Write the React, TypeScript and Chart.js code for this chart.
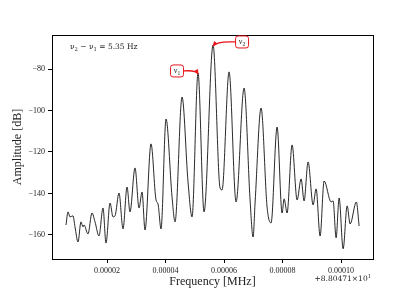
import React, { useEffect, useRef } from "react";
import { Chart, registerables } from "chart.js";

Chart.register(...registerables);

// Frequency offset in Hz (1e-6 MHz) relative to 8.80471e1 MHz
const freqHz = [
  5.98, 6.67, 7.35, 8.38, 9.06, 10.08, 11.11, 11.79, 12.14, 13.5, 14.87, 15.9, 17.26, 18.63, 19.66,
  21.03, 22.05, 22.74, 24.1, 25.47, 26.84, 27.86, 29.57, 30.94, 31.97, 32.99, 35.04, 36.75, 37.44,
  38.46, 40.17, 42.22, 43.25, 45.64, 47.69, 49.06, 51.11, 53.16, 56.24, 58.63, 59.32, 61.71, 64.11,
  66.84, 68.89, 69.92, 70.6, 72.65, 74.7, 76.07, 78.12, 79.83, 80.52, 81.54, 83.25, 84.96, 86.33,
  87.35, 88.72, 90.43, 91.46, 92.82, 94.19, 96.59, 97.27, 98.29, 99.32, 100.69, 102.06, 103.08,
  105.21, 106.16,
];
const ampDb = [
  -155.2, -148.9, -151.3, -150.8, -156.1, -163.4, -153.7, -156.1, -155.2, -159.5, -149.4, -153.7,
  -160.5, -147.0, -163.9, -144.6, -151.3, -150.8, -139.8, -157.1, -136.9, -148.9, -127.7, -147.0,
  -139.3, -157.6, -116.1, -143.1, -145.1, -157.1, -104.1, -141.7, -153.7, -93.5, -134.5, -151.3,
  -81.9, -148.9, -68.4, -137.3, -138.3, -81.4, -144.1, -89.2, -143.1, -161.0, -144.6, -98.8, -146.5,
  -154.2, -108.0, -149.4, -142.6, -149.4, -116.6, -143.1, -133.0, -143.6, -124.8, -145.5, -137.8,
  -160.5, -134.0, -144.1, -143.6, -161.4, -142.2, -166.7, -146.0, -154.7, -144.1, -155.7,
];
const xTicks = [20, 40, 60, 80, 100];
const yTicks = [-160, -140, -120, -100, -80];
const xRange = [1.2, 110.9];
const yRange = [-171.6, -63.6];
const peakNu1Hz = 51.11;
const peakNu2Hz = 56.24;
const deltaLabel = "5.35 Hz";
const offsetLabel = "+8.80471×10";

const SERIF = '"Liberation Serif", "DejaVu Serif", serif';
const WSERIF = '"DejaVu Serif", serif';

type Seg = { t: string; s: number };

function drawSegs(ctx: CanvasRenderingContext2D, segs: Seg[], x: number, y: number, size: number, align: "left" | "right" | "center", fam = SERIF) {
  const widths = segs.map((sg) => {
    ctx.font = `${sg.s === 0 ? size : size * 0.7}px ${fam}`;
    return ctx.measureText(sg.t).width;
  });
  const total = widths.reduce((a, b) => a + b, 0);
  let cx = align === "left" ? x : align === "right" ? x - total : x - total / 2;
  ctx.textAlign = "left";
  ctx.textBaseline = "alphabetic";
  segs.forEach((sg, i) => {
    ctx.font = `${sg.s === 0 ? size : size * 0.7}px ${fam}`;
    const dy = sg.s < 0 ? size * 0.2 : sg.s > 0 ? -size * 0.4 : 0;
    ctx.fillText(sg.t, cx, y + dy);
    cx += widths[i];
  });
}

const decorPlugin = {
  id: "decor",
  afterDraw(chart: any) {
    const { ctx, chartArea: ca, scales } = chart;
    const xs = scales.x;
    const ys = scales.y;
    ctx.save();
    // frame
    ctx.strokeStyle = "#000";
    ctx.lineWidth = 1;
    ctx.strokeRect(Math.round(ca.left) + 0.5, Math.round(ca.top) + 0.5, Math.round(ca.right - ca.left), Math.round(ca.bottom - ca.top));
    ctx.fillStyle = "#222";
    // axis titles
    ctx.font = `12px ${SERIF}`;
    ctx.textAlign = "center";
    ctx.textBaseline = "middle";
    ctx.fillText("Frequency [MHz]", (ca.left + ca.right) / 2, ca.bottom + 23);
    ctx.save();
    ctx.translate(ca.left - 34, (ca.top + ca.bottom) / 2);
    ctx.rotate(-Math.PI / 2);
    ctx.fillText("Amplitude [dB]", 0, 0);
    ctx.restore();
    // offset text
    drawSegs(ctx, [{ t: offsetLabel, s: 0 }, { t: "1", s: 1 }], ca.right - 2, ca.bottom + 22, 7.5, "right", WSERIF);
    // delta text
    drawSegs(
      ctx,
      [
        { t: "ν", s: 0 }, { t: "2", s: -1 }, { t: " − ", s: 0 }, { t: "ν", s: 0 }, { t: "1", s: -1 },
        { t: " = " + deltaLabel, s: 0 },
      ],
      ca.left + 18, ca.top + 14, 7.5, "left", WSERIF
    );
    // annotations
    const ann = [
      { sub: "1", px: xs.getPixelForValue(peakNu1Hz), py: ys.getPixelForValue(ampDb[freqHz.indexOf(peakNu1Hz)]), dx: -21, dy: -2 },
      { sub: "2", px: xs.getPixelForValue(peakNu2Hz), py: ys.getPixelForValue(ampDb[freqHz.indexOf(peakNu2Hz)]), dx: 29, dy: -3 },
    ];
    ann.forEach((a) => {
      const bx = a.px + a.dx;
      const by = a.py + a.dy;
      const w = 13, h = 12;
      const sx = a.dx < 0 ? bx + w / 2 : bx - w / 2;
      const ex = a.px, ey = a.py + 1;
      const cx = a.dx < 0 ? a.px - 2 : a.px + 4;
      const cy = by - 1;
      ctx.strokeStyle = "#e8141c";
      ctx.lineWidth = 1.3;
      ctx.beginPath();
      ctx.moveTo(sx, by);
      ctx.quadraticCurveTo(cx, cy, ex, ey);
      ctx.stroke();
      const ang = Math.atan2(ey - cy, ex - cx);
      ctx.fillStyle = "#e8141c";
      ctx.beginPath();
      ctx.moveTo(ex + Math.cos(ang) * 1, ey + Math.sin(ang) * 1);
      ctx.lineTo(ex - Math.cos(ang - 0.45) * 5, ey - Math.sin(ang - 0.45) * 5);
      ctx.lineTo(ex - Math.cos(ang + 0.45) * 5, ey - Math.sin(ang + 0.45) * 5);
      ctx.closePath();
      ctx.fill();
      ctx.fillStyle = "#fff";
      ctx.strokeStyle = "#e8141c";
      ctx.lineWidth = 1;
      ctx.beginPath();
      (ctx as any).roundRect(bx - w / 2, by - h / 2, w, h, 2.5);
      ctx.fill();
      ctx.stroke();
      ctx.fillStyle = "#222";
      drawSegs(ctx, [{ t: "ν", s: 0 }, { t: a.sub, s: -1 }], bx, by + 2.5, 8, "center");
    });
    ctx.restore();
  },
};

export default function App() {
  const ref = useRef<HTMLCanvasElement>(null);
  useEffect(() => {
    document.body.style.margin = "0";
    const canvas = ref.current!;
    const chart = new Chart(canvas, {
      type: "line",
      data: {
        datasets: [
          {
            data: freqHz.map((f, i) => ({ x: f, y: ampDb[i] })),
            borderColor: "#111",
            borderWidth: 0.9,
            pointRadius: 0,
            cubicInterpolationMode: "monotone",
            fill: false,
          },
        ],
      },
      options: {
        animation: false,
        responsive: false,
        devicePixelRatio: 1,
        layout: { padding: { top: 35, right: 42, left: 0, bottom: 0 } },
        plugins: { legend: { display: false }, tooltip: { enabled: false } },
        scales: {
          x: {
            type: "linear",
            min: xRange[0],
            max: xRange[1],
            afterBuildTicks: (s: any) => { s.ticks = xTicks.map((v) => ({ value: v })); },
            afterFit: (s: any) => { s.height = 38; },
            grid: { drawOnChartArea: false, drawTicks: true, tickLength: 4, color: "#000" },
            border: { display: true, color: "#000", width: 1 },
            ticks: {
              color: "#222",
              padding: 3,
              maxRotation: 0,
              font: { family: SERIF, size: 8 },
              callback: (v: any) => (Number(v) / 1e6).toFixed(5),
            },
          },
          y: {
            type: "linear",
            min: yRange[0],
            max: yRange[1],
            afterBuildTicks: (s: any) => { s.ticks = yTicks.map((v) => ({ value: v })); },
            afterFit: (s: any) => { s.width = 52; },
            grid: { drawOnChartArea: false, drawTicks: true, tickLength: 4, color: "#000" },
            border: { display: true, color: "#000", width: 1 },
            ticks: {
              color: "#222",
              padding: 3,
              font: { family: SERIF, size: 8 },
              callback: (v: any) => (Number(v) < 0 ? "−" + Math.abs(Number(v)) : String(v)),
            },
          },
        },
      },
      plugins: [decorPlugin],
    } as any);
    return () => chart.destroy();
  }, []);
  return <canvas ref={ref} width={415} height={297} style={{ display: "block", width: 415, height: 297 }} />;
}
